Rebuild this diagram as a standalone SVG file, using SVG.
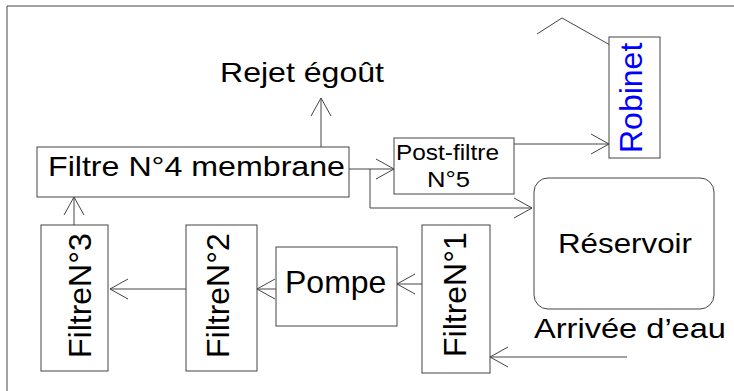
<svg xmlns="http://www.w3.org/2000/svg" width="734" height="391" viewBox="0 0 734 391">
<style>
.box{fill:#fff;stroke:#444;stroke-width:1}
.ln{fill:none;stroke:#444;stroke-width:1}
.t{font-family:"Liberation Sans",Arial,sans-serif;fill:#000}
</style>
<defs>
<marker id="ah" markerUnits="userSpaceOnUse" markerWidth="22" markerHeight="24" refX="19" refY="11" orient="auto" overflow="visible">
<path d="M1,1 L19,11 L1,21" fill="none" stroke="#444" stroke-width="1"/>
</marker>
</defs>
<rect width="734" height="391" fill="#fff"/>
<path class="ln" d="M7,391 V6 H734"/>
<g id="connectors">
<path class="ln" d="M321,147 V98" marker-end="url(#ah)"/>
<path class="ln" d="M349,169 H394" marker-end="url(#ah)"/>
<path class="ln" d="M370,169 V208 H532" marker-end="url(#ah)"/>
<path class="ln" d="M514,144 H609" marker-end="url(#ah)"/>
<path class="ln" d="M627,357 H490" marker-end="url(#ah)"/>
<path class="ln" d="M422,284 H397" marker-end="url(#ah)"/>
<path class="ln" d="M276,289 H257" marker-end="url(#ah)"/>
<path class="ln" d="M186,289 H110" marker-end="url(#ah)"/>
<path class="ln" d="M74,225 V197" marker-end="url(#ah)"/>
<path class="ln" d="M537,34 L562,18 L610,45"/>
</g>
<g id="rejet">
<text class="t" x="220" y="82" font-size="28.5" textLength="164" lengthAdjust="spacingAndGlyphs">Rejet égoût</text>
</g>
<g id="filtre4">
<rect class="box" x="37" y="147" width="312" height="50"/>
<text class="t" x="48" y="176" font-size="28" textLength="297" lengthAdjust="spacingAndGlyphs">Filtre N°4 membrane</text>
</g>
<g id="postfiltre">
<rect class="box" x="394" y="138" width="120" height="56"/>
<text class="t" x="396" y="160" font-size="22.5" textLength="103" lengthAdjust="spacingAndGlyphs">Post-filtre</text>
<text class="t" x="427" y="187" font-size="22.5" textLength="43" lengthAdjust="spacingAndGlyphs">N°5</text>
</g>
<g id="robinet">
<rect class="box" x="609" y="37" width="51" height="121"/>
<text class="t" transform="translate(642,153) rotate(-90)" font-size="32" style="fill:#0000ff">Robinet</text>
</g>
<g id="reservoir">
<rect class="box" x="534" y="178" width="180" height="131" rx="14" ry="14"/>
<text class="t" x="558" y="253" font-size="28.5" textLength="134" lengthAdjust="spacingAndGlyphs">Réservoir</text>
</g>
<g id="arrivee">
<text class="t" x="534" y="338" font-size="28.5" textLength="192" lengthAdjust="spacingAndGlyphs">Arrivée d’eau</text>
</g>
<g id="filtre1">
<rect class="box" x="422" y="225" width="68" height="148"/>
<text class="t" transform="translate(466,357) rotate(-90)" font-size="32">FiltreN°1</text>
</g>
<g id="pompe">
<rect class="box" x="276" y="247" width="121" height="79"/>
<text class="t" x="285" y="293" font-size="32">Pompe</text>
</g>
<g id="filtre2">
<rect class="box" x="186" y="225" width="71" height="146"/>
<text class="t" transform="translate(229,358) rotate(-90)" font-size="32">FiltreN°2</text>
</g>
<g id="filtre3">
<rect class="box" x="41" y="225" width="67" height="146"/>
<text class="t" transform="translate(91,358) rotate(-90)" font-size="32">FiltreN°3</text>
</g>
</svg>
